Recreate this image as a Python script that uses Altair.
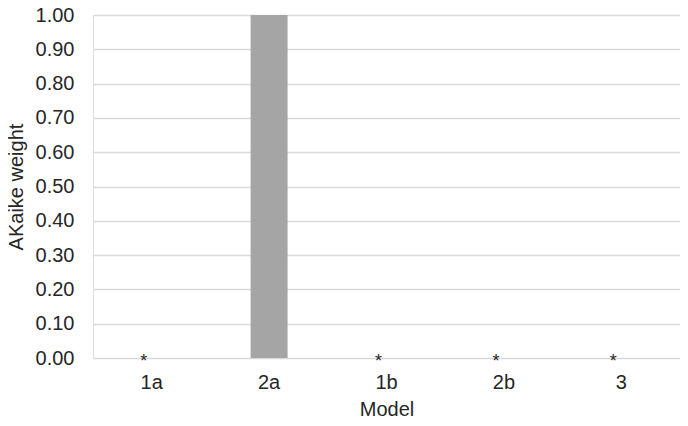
import altair as alt
import pandas as pd

models = ["1a", "2a", "1b", "2b", "3"]
weights = [0.0, 1.0, 0.0, 0.0, 0.0]
marks = ["*", "", "*", "*", "*"]
y_ticks = [0.0, 0.1, 0.2, 0.3, 0.4, 0.5, 0.6, 0.7, 0.8, 0.9, 1.0]

df = pd.DataFrame({"Model": models, "weight": weights, "mark": marks})

FONT = "Liberation Sans"
TXT = "#262626"

x = alt.X("Model:N", sort=models, title="Model",
          scale=alt.Scale(paddingInner=0.685, paddingOuter=0.3425),
          axis=alt.Axis(labelAngle=0, domain=False, ticks=False, grid=False, labelPadding=14,
                        labelFontSize=20, titleFontSize=20, titlePadding=7,
                        labelFont=FONT, titleFont=FONT, labelColor=TXT, titleColor=TXT,
                        titleFontWeight="normal"))

y = alt.Y("weight:Q", title="AKaike weight",
          scale=alt.Scale(domain=[0, 1]),
          axis=alt.Axis(values=y_ticks, format=".2f", domain=False, ticks=False,
                        labelOverlap=False,
                        labelPadding=19, labelFontSize=20, titleFontSize=20,
                        titlePadding=9, labelFont=FONT, titleFont=FONT,
                        labelColor=TXT, titleColor=TXT, titleFontWeight="normal",
                        gridColor="#d9d9d9", gridWidth=1.5))

bars = alt.Chart(df).mark_bar(color="#a5a5a5").encode(x=x, y=y)

stars = alt.Chart(df).mark_text(fontSize=18, font=FONT, color=TXT,
                                baseline="alphabetic", dy=9, dx=-8).encode(
    x=x, y=y, text="mark:N",
)

chart = (bars + stars).properties(
    width=587, height=343,
    autosize=alt.AutoSizeParams(type="none"),
    padding={"left": 85, "top": 7, "right": 0, "bottom": 62},
).configure_view(stroke=None).configure(background="white")

chart.save("out.html", embed_options={"renderer": "svg", "actions": False})
